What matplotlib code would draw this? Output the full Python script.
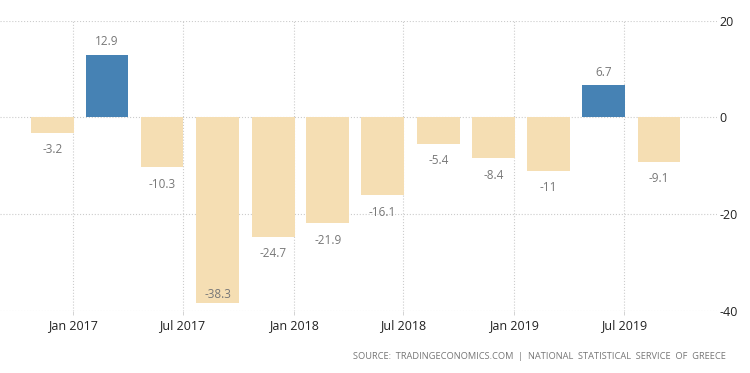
import matplotlib
matplotlib.use("Agg")
import matplotlib.pyplot as plt
import matplotlib.dates as mdates
import numpy as np
import datetime as dt

plt.rcParams['font.family'] = ['Open Sans', 'DejaVu Sans']

quarters = ['2016-12-31', '2017-03-31', '2017-06-30', '2017-09-30', '2017-12-31', '2018-03-31',
            '2018-06-30', '2018-09-30', '2018-12-31', '2019-03-31', '2019-06-30', '2019-09-30']
values = [-3.2, 12.9, -10.3, -38.3, -24.7, -21.9, -16.1, -5.4, -8.4, -11, 6.7, -9.1]
labels = ['-3.2', '12.9', '-10.3', '-38.3', '-24.7', '-21.9', '-16.1', '-5.4', '-8.4', '-11', '6.7', '-9.1']
tick_dates = ['2017-01-01', '2017-07-01', '2018-01-01', '2018-07-01', '2019-01-01', '2019-07-01']
tick_labels = ['Jan 2017', 'Jul 2017', 'Jan 2018', 'Jul 2018', 'Jan 2019', 'Jul 2019']
yticks = [20, 0, -20, -40]

fig = plt.figure(figsize=(7.5, 3.73), dpi=100)
ax = fig.add_axes([0.0, 0.166, 0.956, 0.7785])

x = np.array([mdates.date2num(dt.datetime.strptime(q, '%Y-%m-%d')) - 33 for q in quarters])
colors = ['#4682B4' if v > 0 else '#F5DEB3' for v in values]
ax.bar(x, values, width=71, color=colors, zorder=3)

for xi, v, lab in zip(x, values, labels):
    if v > 0:
        ax.text(xi, v + 2.7, lab, ha='center', va='center', fontsize=8.5, color='#777777', zorder=4)
    elif v < -35:
        ax.text(xi, v + 1.8, lab, ha='center', va='center', fontsize=8.5, color='#777777', zorder=4)
    else:
        ax.text(xi, v - 3.5, lab, ha='center', va='center', fontsize=8.5, color='#777777', zorder=4)

tx = [mdates.date2num(dt.datetime.strptime(t, '%Y-%m-%d')) for t in tick_dates]
ax.set_xticks(tx)
ax.set_xticklabels(tick_labels, fontsize=9, color='#222222')
ax.set_xlim(mdates.date2num(dt.datetime(2016, 9, 2)), mdates.date2num(dt.datetime(2019, 12, 2)))
ax.set_ylim(-40, 20)
ax.set_yticks(yticks)
ax.yaxis.tick_right()
ax.set_yticklabels([str(t) for t in yticks], fontsize=9, color='#222222')
ax.tick_params(axis='y', length=0, pad=2)
ax.tick_params(axis='x', length=3, width=0.6, color='#cccccc', pad=3)
ax.grid(True, color='#cccccc', linestyle=':', linewidth=0.8, zorder=0)
for s in ax.spines.values():
    s.set_visible(False)

fig.text(0.968, 0.043, 'SOURCE:  TRADINGECONOMICS.COM  |  NATIONAL  STATISTICAL  SERVICE  OF  GREECE',
         ha='right', va='center', fontsize=6.7, color='#777777')

fig.savefig('out.png', dpi=100)
